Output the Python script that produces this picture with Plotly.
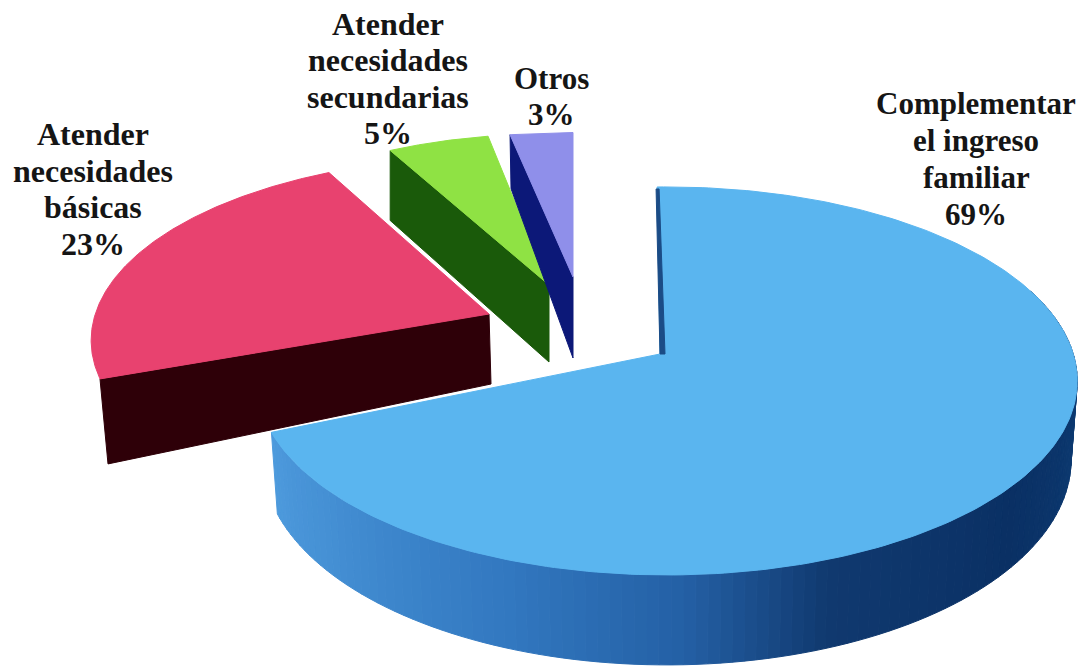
import numpy as np
import plotly.graph_objects as go

# ---- data ----
categories = ["Complementar el ingreso familiar", "Atender necesidades básicas",
              "Atender necesidades secundarias", "Otros"]
values = [69, 23, 5, 3]
label_lines = [["Complementar", "el ingreso", "familiar"],
               ["Atender", "necesidades", "básicas"],
               ["Atender", "necesidades", "secundarias"],
               ["Otros"]]

# ---- styling / exploded 3D geometry (pixel space) ----
W, H = 1082, 666
RX, RY, K = 408.0, 190.0, 0.144
THICK = 77.0
BOTTOM_SCALE = 0.985
style = [
    dict(cx=667, cy=353, ax=660, ay=354, sx=0.995, sy=1.0, rot=-1.6, face="#5AB5EF", wall="#1B4C86"),
    dict(cx=489, cy=314, ax=489, ay=314, sx=0.965, sy=0.945, rot=1.5, face="#E8426F", wall="#2E0008",
         ta=70, tr=85, adx=2, rdx=8),
    dict(cx=549, cy=285, ax=549, ay=285, sx=0.91, sy=0.91, rot=0, face="#8FE244", wall="#1A5A0A",
         ta=77, tr=70, adx=0, rdx=0),
    dict(cx=573, cy=277, ax=573, ay=277, sx=0.94, sy=0.87, rot=0, face="#8F8FEA", wall="#0C1878",
         ta=81, tr=54, adx=0, rdx=1),
]
# (centre x, y of first line, line step, font size)
label_pos = [(976, 103, 37, 31), (92.5, 134, 36.7, 32), (388, 24, 36.3, 32), (551, 78, 36, 31)]
wall_stops = [(60, "#0F4680"), (85, "#0D3F78"), (130, "#0A3064"), (160, "#10396F"),
              (178, "#2460A5"), (200, "#3278C0"), (230, "#4590D4"), (250, "#4F9CDE")]


def rim(theta, st):
    t = np.radians(theta)
    X, Y = np.sin(t), np.cos(t)
    s = 1.0 / (1.0 + K * Y)
    return st["cx"] + RX * st["sx"] * X * s, st["cy"] - RY * st["sy"] * Y * s, s


def hex2rgb(h):
    return np.array([int(h[i:i + 2], 16) for i in (1, 3, 5)], dtype=float)


def wall_color(theta):
    a = [p[0] for p in wall_stops]
    c = np.array([hex2rgb(p[1]) for p in wall_stops])
    r, g, b = (np.interp(theta, a, c[:, i]) for i in range(3))
    return f"rgb({r:.0f},{g:.0f},{b:.0f})"


def poly(fig, xs, ys, color):
    fig.add_trace(go.Scatter(x=list(xs), y=list(ys), mode="lines", fill="toself", fillcolor=color,
                             line=dict(color=color, width=1), hoverinfo="skip", showlegend=False))


fig = go.Figure()
edges = np.cumsum([0] + values) / sum(values) * 360.0
spans = [(edges[i], edges[i + 1]) for i in range(len(values))]

for idx in [1, 2, 3, 0]:
    st = style[idx]
    a0, a1 = spans[idx][0] + st["rot"], spans[idx][1] + st["rot"]
    if idx == 0:
        # outer curved wall, shaded by angle
        th = np.arange(70, a1, 1.5).tolist() + [a1]
        cx = st["cx"]
        for t0, t1 in zip(th[:-1], th[1:]):
            x0, y0, s0 = rim(t0, st)
            x1, y1, s1 = rim(t1, st)
            bx0 = cx + (x0 - cx) * BOTTOM_SCALE
            bx1 = cx + (x1 - cx) * BOTTOM_SCALE
            poly(fig, [x0, x1, bx1, bx0, x0],
                 [y0, y1, y1 + THICK * s1, y0 + THICK * s0, y0], wall_color((t0 + t1) / 2))
    else:
        rx_, ry_, _ = rim(a0, st)
        poly(fig, [rx_, st["ax"], st["ax"] + st["adx"], rx_ + st["rdx"], rx_],
             [ry_, st["ay"], st["ay"] + st["ta"], ry_ + st["tr"], ry_], st["wall"])
    th = np.linspace(a0, a1, 240)
    px, py, _ = rim(th, st)
    poly(fig, [st["ax"]] + px.tolist() + [st["ax"]], [st["ay"]] + py.tolist() + [st["ay"]], st["face"])
    if idx == 0:
        x0, y0, _ = rim(a0, st)
        poly(fig, [x0 - 1, x0 + 2, st["ax"] + 5, st["ax"], x0 - 1],
             [y0 + 2, y0 + 2, st["ay"], st["ay"], y0 + 2], st["wall"])

for lines, v, (lx, ly, step, size) in zip(label_lines, values, label_pos):
    for i, line in enumerate(lines + [f"{v}%"]):
        fig.add_annotation(x=lx, y=ly + i * step, text=line, showarrow=False,
                           xanchor="center", yanchor="middle", align="center",
                           font=dict(family="Liberation Serif", size=size, color="#151515", weight="bold"))

fig.update_layout(width=W, height=H, margin=dict(l=0, r=0, t=0, b=0), autosize=False,
                  paper_bgcolor="white", plot_bgcolor="white", showlegend=False,
                  xaxis=dict(range=[0, W], visible=False, fixedrange=True),
                  yaxis=dict(range=[H, 0], visible=False, fixedrange=True))
fig.write_html("out.html", config=dict(displayModeBar=False),
               post_script="document.body.style.margin='0';document.body.style.overflow='hidden';")
